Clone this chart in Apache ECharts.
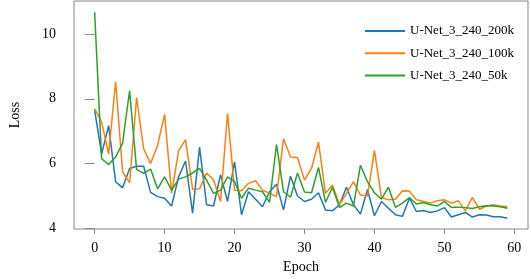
<!DOCTYPE html>
<html>
<head>
<meta charset="utf-8">
<script src="https://cdn.jsdelivr.net/npm/echarts@6/dist/echarts.min.js"></script>
<style>
html,body{margin:0;padding:0;background:#fff;}
#chart{width:531px;height:279px;}
</style>
</head>
<body>
<div id="chart"></div>
<script>
const epochs = Array.from({length: 60}, (_, i) => i);
const seriesNames = ['U-Net_3_240_200k', 'U-Net_3_240_100k', 'U-Net_3_240_50k'];
const loss200k = [7.65, 6.29, 7.17, 5.44, 5.25, 5.85, 5.92, 5.92, 5.11, 4.98,
  4.93, 4.69, 5.59, 6.08, 4.47, 6.51, 4.73, 4.69, 5.66, 4.83,
  6.05, 4.42, 5.13, 4.90, 4.67, 5.13, 5.36, 4.57, 5.61, 5.00,
  4.83, 4.90, 5.10, 4.57, 4.54, 4.73, 5.27, 4.73, 4.44, 5.20,
  4.39, 4.83, 4.62, 4.42, 4.37, 4.93, 4.52, 4.55, 4.49, 4.54,
  4.64, 4.35, 4.42, 4.49, 4.35, 4.42, 4.41, 4.36, 4.36, 4.31];
const loss100k = [7.70, 7.28, 6.29, 8.53, 5.74, 5.41, 8.04, 6.46, 6.00, 6.56,
  7.52, 5.08, 6.39, 6.74, 5.21, 5.22, 5.71, 5.49, 4.83, 7.55,
  5.18, 5.16, 5.39, 5.47, 5.18, 5.08, 4.98, 6.77, 6.20, 6.19,
  5.49, 5.85, 6.66, 5.08, 5.34, 4.73, 5.08, 5.44, 5.03, 5.00,
  6.41, 4.95, 4.88, 4.90, 5.16, 5.15, 4.88, 4.83, 4.78, 4.85,
  4.88, 4.78, 4.85, 4.54, 4.96, 4.59, 4.69, 4.73, 4.69, 4.67];
const loss50k = [10.67, 6.15, 5.97, 6.20, 6.63, 8.25, 5.82, 5.70, 5.83, 5.22,
  5.59, 5.18, 5.52, 5.59, 5.71, 5.85, 5.49, 5.08, 5.18, 5.59,
  5.44, 4.93, 5.24, 5.18, 5.13, 4.80, 6.59, 5.13, 4.96, 5.71,
  5.12, 5.10, 5.88, 4.80, 5.27, 4.64, 4.78, 4.69, 5.95, 5.44,
  5.10, 4.90, 5.27, 4.65, 4.78, 4.95, 4.75, 4.80, 4.73, 4.69,
  4.83, 4.65, 4.65, 4.64, 4.61, 4.67, 4.70, 4.69, 4.67, 4.62];
const xTicks = [0, 10, 20, 30, 40, 50, 60];
const yTicks = [4, 6, 8, 10];
const colors = ['#1f77b4', '#ff7f0e', '#2ca02c'];
const allSeries = [loss200k, loss100k, loss50k];

const FONT = '"Liberation Serif", "DejaVu Serif", serif';
const chart = echarts.init(document.getElementById('chart'), null, {renderer: 'canvas'});
chart.setOption({
  animation: false,
  backgroundColor: '#fff',
  grid: {left: 69, right: 3, top: 1, bottom: 50, show: true, borderColor: '#888', borderWidth: 1, backgroundColor: 'transparent'},
  legend: {
    orient: 'vertical', left: 360, top: 19,
    itemWidth: 40, itemHeight: 2, itemGap: 8.2, icon: 'rect',
    textStyle: {fontFamily: FONT, fontSize: 13, color: '#000', lineHeight: 14},
    data: seriesNames
  },
  xAxis: {
    type: 'value', min: -2.95, max: 61.95,
    name: 'Epoch', nameLocation: 'middle', nameGap: 28,
    nameTextStyle: {fontFamily: FONT, fontSize: 14, color: '#000'},
    axisLine: {show: false},
    splitLine: {show: false},
    axisTick: {show: true, length: 5, customValues: xTicks, lineStyle: {color: '#888'}},
    axisLabel: {customValues: xTicks, margin: 12, fontFamily: FONT, fontSize: 14, color: '#000'}
  },
  yAxis: {
    type: 'value', min: 3.98, max: 11.02,
    name: 'Loss', nameLocation: 'middle', nameGap: 52,
    nameTextStyle: {fontFamily: FONT, fontSize: 14, color: '#000'},
    axisLine: {show: false},
    splitLine: {show: false},
    axisTick: {show: true, length: 10, customValues: yTicks, lineStyle: {color: '#888'}},
    axisLabel: {customValues: yTicks, margin: 18, fontFamily: FONT, fontSize: 14, color: '#000'}
  },
  series: allSeries.map((arr, k) => ({
    name: seriesNames[k], type: 'line', showSymbol: false, symbol: 'none',
    color: colors[k],
    lineStyle: {width: 1.5, color: colors[k]},
    data: epochs.map((e, i) => [e, arr[i]])
  }))
});
</script>
</body>
</html>
